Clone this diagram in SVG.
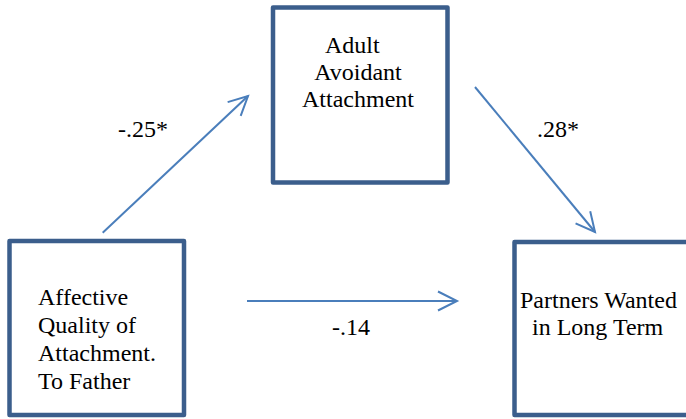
<svg xmlns="http://www.w3.org/2000/svg" width="686" height="419" viewBox="0 0 686 419">
<style>
.box{fill:#fff;stroke:#3B5E8C;stroke-width:4.5;stroke-linejoin:round}
.t{font-family:"Liberation Serif","Times New Roman",serif;font-size:24px;fill:#000}
.c{stroke:#4A7EBB;stroke-width:2;fill:none}
</style>
<defs>
<marker id="ah" markerUnits="userSpaceOnUse" markerWidth="30" markerHeight="30" viewBox="-25 -15 30 30" refX="0" refY="0" orient="auto">
<path d="M-19,-9.5 L0,0 L-19,9.5" fill="none" stroke="#4A7EBB" stroke-width="2"/>
</marker>
</defs>
<rect width="686" height="419" fill="#fff"/>
<g id="node-avoidant">
<rect class="box" x="273" y="7.5" width="174.5" height="175"/>
<text class="t" x="325" y="53">Adult</text>
<text class="t" x="358" y="80" text-anchor="middle">Avoidant</text>
<text class="t" x="358" y="107" text-anchor="middle">Attachment</text>
</g>
<g id="node-father">
<rect class="box" x="9.5" y="241" width="174.5" height="174"/>
<text class="t" x="38" y="305">Affective</text>
<text class="t" x="38" y="333">Quality of</text>
<text class="t" x="38" y="361">Attachment.</text>
<text class="t" x="38" y="389">To Father</text>
</g>
<g id="node-partners">
<rect class="box" x="514.5" y="242" width="180" height="173"/>
<text class="t" x="520" y="308">Partners Wanted</text>
<text class="t" x="532" y="335">in Long Term</text>
</g>
<g id="connectors">
<line class="c" x1="102.7" y1="232.7" x2="248" y2="96" marker-end="url(#ah)"/>
<line class="c" x1="475" y1="87" x2="595" y2="232" marker-end="url(#ah)"/>
<line class="c" x1="247" y1="301" x2="457" y2="301" marker-end="url(#ah)"/>
<text class="t" x="118" y="137">-.25*</text>
<text class="t" x="537" y="137">.28*</text>
<text class="t" x="332" y="335">-.14</text>
</g>
</svg>
